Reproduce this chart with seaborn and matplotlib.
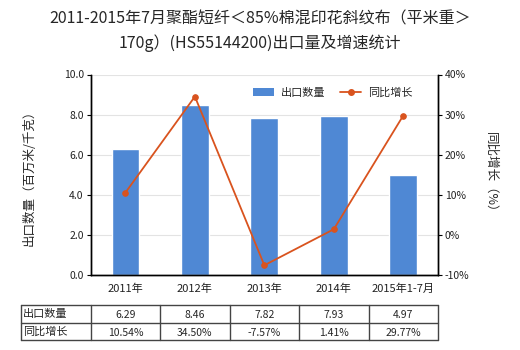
import numpy as np
import matplotlib
matplotlib.use("Agg")
import matplotlib.pyplot as plt
import seaborn as sns
from matplotlib.lines import Line2D
from matplotlib.patches import Patch

categories = ["2011年", "2012年", "2013年", "2014年", "2015年1-7月"]
export_qty = [6.29, 8.46, 7.82, 7.93, 4.97]
growth_pct = [10.54, 34.50, -7.57, 1.41, 29.77]
qty_labels = ["6.29", "8.46", "7.82", "7.93", "4.97"]
growth_labels = ["10.54%", "34.50%", "-7.57%", "1.41%", "29.77%"]

sns.set_theme(style="white")
plt.rcParams["font.family"] = ["Noto Sans CJK SC", "DejaVu Sans"]
plt.rcParams["axes.unicode_minus"] = False

bar_color = "#4f88d4"
line_color = "#d9531e"

fig = plt.figure(figsize=(5.2, 3.5), dpi=100)
W, H = 520, 350
ax_l, ax_r, ax_t, ax_b = 90.7, 438, 74.5, 275
ax = fig.add_axes([ax_l / W, 1 - ax_b / H, (ax_r - ax_l) / W, (ax_b - ax_t) / H])

x = np.arange(len(categories))
sns.barplot(x=x, y=export_qty, color=bar_color, width=0.4, saturation=1, ax=ax, zorder=2)
ax.set_ylim(0, 10)
ax.set_yticks(np.arange(0, 10.1, 2))
ax.set_yticklabels([f"{v:.1f}" for v in np.arange(0, 10.1, 2)], fontsize=7.5)
ax.set_xlim(-0.5, len(categories) - 0.5)
ax.set_xticks(x)
ax.set_xticklabels(categories, fontsize=8)
ax.yaxis.grid(True, color="#e3e3e3", linewidth=0.8, zorder=0)
ax.set_axisbelow(True)
ax.set_ylabel("出口数量（百万米/千克）", fontsize=9, labelpad=20)

ax2 = ax.twinx()
sns.lineplot(x=x, y=growth_pct, color=line_color, marker="o", markersize=4,
             markeredgecolor=line_color, linewidth=1.3, ax=ax2, zorder=3)
ax2.set_ylim(-10, 40)
ax2.set_yticks(np.arange(-10, 41, 10))
ax2.set_yticklabels([f"{v:d}%" for v in range(-10, 41, 10)], fontsize=7.5)
ax2.set_ylabel("同比增长（%）", fontsize=9, rotation=270, labelpad=20)

for a in (ax, ax2):
    for side in ("left", "right", "bottom"):
        a.spines[side].set_color("black")
        a.spines[side].set_linewidth(1)
    a.spines["top"].set_visible(False)
    a.tick_params(axis="both", length=3, width=0.8, color="black", pad=2, colors="#222222")
ax.tick_params(axis="x", length=0, pad=6)

handles = [Patch(facecolor=bar_color, edgecolor="none"),
           Line2D([0], [0], color=line_color, marker="o", markersize=4, linewidth=1.3)]
ax2.legend(handles, ["出口数量", "同比增长"], loc="upper right", ncol=2, frameon=False,
           fontsize=8, bbox_to_anchor=(0.955, 0.985), handlelength=1.9,
           handletextpad=0.6, columnspacing=1.3)

fig.text(0.5, 1 - 19 / H, "2011-2015年7月聚酯短纤＜85%棉混印花斜纹布（平米重＞",
         ha="center", va="center", fontsize=11.5)
fig.text(0.5, 1 - 43 / H, "170g）(HS55144200)出口量及增速统计",
         ha="center", va="center", fontsize=11.5)

# data table under the chart
tbl_left, tbl_right = 20.7, 438
tbl_top, tbl_mid, tbl_bot = 304.7, 322.5, 340
col_edges = [tbl_left] + [ax_l + i * (ax_r - ax_l) / 5 for i in range(6)]
lax = fig.add_axes([0, 0, 1, 1], facecolor="none")
lax.set_xlim(0, W)
lax.set_ylim(H, 0)
lax.axis("off")
for yy in (tbl_top, tbl_mid, tbl_bot):
    lax.plot([tbl_left, tbl_right], [yy, yy], color="#444444", linewidth=1)
for xx in col_edges:
    lax.plot([xx, xx], [tbl_top, tbl_bot], color="#444444", linewidth=1)
rows = [("出口数量", qty_labels), ("同比增长", growth_labels)]
for r, (head, vals) in enumerate(rows):
    yc = (tbl_top + tbl_mid) / 2 if r == 0 else (tbl_mid + tbl_bot) / 2
    lax.text(tbl_left + 2, yc, head, ha="left", va="center", fontsize=8)
    for i, v in enumerate(vals):
        xc = (col_edges[i + 1] + col_edges[i + 2]) / 2
        lax.text(xc, yc + 1.5, v, ha="center", va="center", fontsize=7.5)

fig.savefig("out.png", dpi=100)
